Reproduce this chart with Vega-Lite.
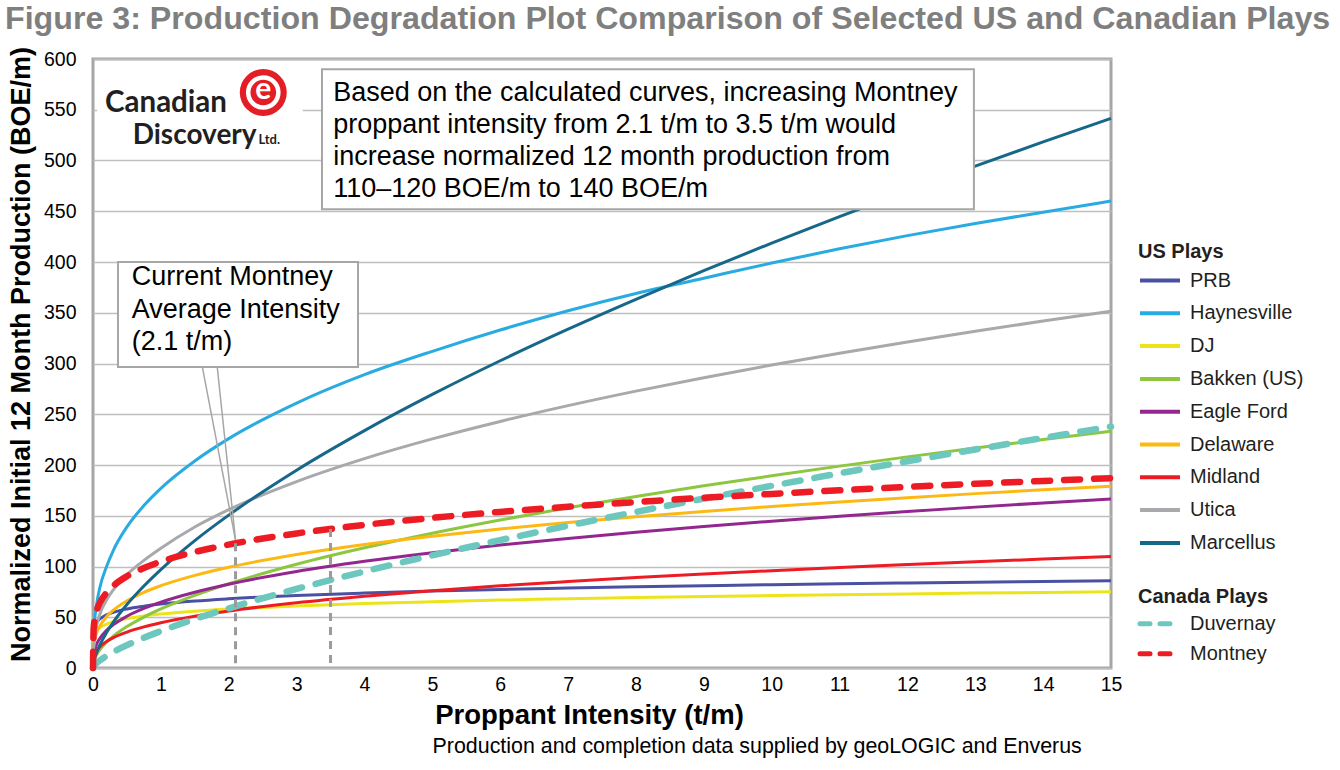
{
  "$schema": "https://vega.github.io/schema/vega-lite/v6.json",
  "width": 1018,
  "height": 609,
  "autosize": {"type": "none"},
  "padding": {"left": 93, "top": 59, "right": 229, "bottom": 102},
  "background": "white",
  "title": {
    "text": "Figure 3: Production Degradation Plot Comparison of Selected US and Canadian Plays",
    "anchor": "start",
    "frame": "group",
    "orient": "top",
    "dx": -88,
    "dy": 27,
    "offset": 12,
    "baseline": "alphabetic",
    "font": "Liberation Sans",
    "fontSize": 32.2,
    "fontWeight": "bold",
    "color": "#7F7F7F"
  },
  "config": {
    "font": "Liberation Sans",
    "view": {"stroke": "#A6A6A6", "strokeWidth": 3},
    "legend": {
      "labelFont": "Liberation Sans",
      "labelFontSize": 20,
      "labelColor": "#231F20",
      "titleFont": "Liberation Sans",
      "titleFontSize": 20,
      "titleFontWeight": "bold",
      "titleColor": "#231F20",
      "padding": 0,
      "symbolSize": 100,
      "symbolStrokeWidth": 4
    }
  },
  "datasets": {
    "curves": [
      {"play":"PRB","x":0,"y":0},{"play":"PRB","x":0.01,"y":37.1},{"play":"PRB","x":0.05,"y":44.6},{"play":"PRB","x":0.1,"y":48.3},{"play":"PRB","x":0.2,"y":52.4},{"play":"PRB","x":0.3,"y":54.9},{"play":"PRB","x":0.5,"y":58.2},{"play":"PRB","x":0.75,"y":60.9},{"play":"PRB","x":1,"y":63},{"play":"PRB","x":1.5,"y":66},{"play":"PRB","x":2,"y":68.2},{"play":"PRB","x":3,"y":71.5},{"play":"PRB","x":4,"y":73.9},{"play":"PRB","x":5,"y":75.8},{"play":"PRB","x":6,"y":77.4},{"play":"PRB","x":7,"y":78.8},{"play":"PRB","x":8,"y":80},{"play":"PRB","x":9,"y":81.1},{"play":"PRB","x":10,"y":82.1},{"play":"PRB","x":11,"y":83},{"play":"PRB","x":12,"y":83.8},{"play":"PRB","x":13,"y":84.6},{"play":"PRB","x":14,"y":85.3},{"play":"PRB","x":15,"y":86},
      {"play":"Haynesville","x":0,"y":0},{"play":"Haynesville","x":0.01,"y":35},{"play":"Haynesville","x":0.05,"y":61},{"play":"Haynesville","x":0.1,"y":79},{"play":"Haynesville","x":0.2,"y":100},{"play":"Haynesville","x":0.3,"y":116},{"play":"Haynesville","x":0.5,"y":139},{"play":"Haynesville","x":0.75,"y":160},{"play":"Haynesville","x":1,"y":177},{"play":"Haynesville","x":1.5,"y":204},{"play":"Haynesville","x":2,"y":226},{"play":"Haynesville","x":3,"y":261},{"play":"Haynesville","x":4,"y":289},{"play":"Haynesville","x":5,"y":312},{"play":"Haynesville","x":6,"y":333},{"play":"Haynesville","x":7,"y":352},{"play":"Haynesville","x":8,"y":369},{"play":"Haynesville","x":9,"y":384},{"play":"Haynesville","x":10,"y":399},{"play":"Haynesville","x":11,"y":413},{"play":"Haynesville","x":12,"y":426},{"play":"Haynesville","x":13,"y":438},{"play":"Haynesville","x":14,"y":449},{"play":"Haynesville","x":15,"y":460},
      {"play":"DJ","x":0,"y":0},{"play":"DJ","x":0.01,"y":29.6},{"play":"DJ","x":0.05,"y":36.3},{"play":"DJ","x":0.1,"y":39.7},{"play":"DJ","x":0.2,"y":43.3},{"play":"DJ","x":0.3,"y":45.6},{"play":"DJ","x":0.5,"y":48.7},{"play":"DJ","x":0.75,"y":51.3},{"play":"DJ","x":1,"y":53.2},{"play":"DJ","x":1.5,"y":56},{"play":"DJ","x":2,"y":58.1},{"play":"DJ","x":3,"y":61.2},{"play":"DJ","x":4,"y":63.5},{"play":"DJ","x":5,"y":65.3},{"play":"DJ","x":6,"y":66.9},{"play":"DJ","x":7,"y":68.2},{"play":"DJ","x":8,"y":69.4},{"play":"DJ","x":9,"y":70.4},{"play":"DJ","x":10,"y":71.4},{"play":"DJ","x":11,"y":72.2},{"play":"DJ","x":12,"y":73},{"play":"DJ","x":13,"y":73.8},{"play":"DJ","x":14,"y":74.5},{"play":"DJ","x":15,"y":75.2},
      {"play":"Bakken (US)","x":0,"y":0},{"play":"Bakken (US)","x":0.01,"y":5.5},{"play":"Bakken (US)","x":0.05,"y":12.5},{"play":"Bakken (US)","x":0.1,"y":17.9},{"play":"Bakken (US)","x":0.2,"y":25.5},{"play":"Bakken (US)","x":0.3,"y":31.4},{"play":"Bakken (US)","x":0.5,"y":40.8},{"play":"Bakken (US)","x":0.75,"y":50.2},{"play":"Bakken (US)","x":1,"y":58.2},{"play":"Bakken (US)","x":1.5,"y":71.6},{"play":"Bakken (US)","x":2,"y":83},{"play":"Bakken (US)","x":3,"y":102.2},{"play":"Bakken (US)","x":4,"y":118.4},{"play":"Bakken (US)","x":5,"y":132.8},{"play":"Bakken (US)","x":6,"y":145.8},{"play":"Bakken (US)","x":7,"y":157.8},{"play":"Bakken (US)","x":8,"y":169},{"play":"Bakken (US)","x":9,"y":179.5},{"play":"Bakken (US)","x":10,"y":189.4},{"play":"Bakken (US)","x":11,"y":198.9},{"play":"Bakken (US)","x":12,"y":208},{"play":"Bakken (US)","x":13,"y":216.7},{"play":"Bakken (US)","x":14,"y":225.1},{"play":"Bakken (US)","x":15,"y":233.2},
      {"play":"Eagle Ford","x":0,"y":0},{"play":"Eagle Ford","x":0.01,"y":13.1},{"play":"Eagle Ford","x":0.05,"y":22.9},{"play":"Eagle Ford","x":0.1,"y":29.1},{"play":"Eagle Ford","x":0.2,"y":37.1},{"play":"Eagle Ford","x":0.3,"y":42.7},{"play":"Eagle Ford","x":0.5,"y":51},{"play":"Eagle Ford","x":0.75,"y":58.7},{"play":"Eagle Ford","x":1,"y":64.9},{"play":"Eagle Ford","x":1.5,"y":74.7},{"play":"Eagle Ford","x":2,"y":82.6},{"play":"Eagle Ford","x":3,"y":95.1},{"play":"Eagle Ford","x":4,"y":105.1},{"play":"Eagle Ford","x":5,"y":113.6},{"play":"Eagle Ford","x":6,"y":121.1},{"play":"Eagle Ford","x":7,"y":127.7},{"play":"Eagle Ford","x":8,"y":133.8},{"play":"Eagle Ford","x":9,"y":139.4},{"play":"Eagle Ford","x":10,"y":144.6},{"play":"Eagle Ford","x":11,"y":149.5},{"play":"Eagle Ford","x":12,"y":154.1},{"play":"Eagle Ford","x":13,"y":158.5},{"play":"Eagle Ford","x":14,"y":162.6},{"play":"Eagle Ford","x":15,"y":166.5},
      {"play":"Delaware","x":0,"y":0},{"play":"Delaware","x":0.01,"y":21.1},{"play":"Delaware","x":0.05,"y":33.8},{"play":"Delaware","x":0.1,"y":41.3},{"play":"Delaware","x":0.2,"y":50.6},{"play":"Delaware","x":0.3,"y":57},{"play":"Delaware","x":0.5,"y":66.2},{"play":"Delaware","x":0.75,"y":74.6},{"play":"Delaware","x":1,"y":81.1},{"play":"Delaware","x":1.5,"y":91.3},{"play":"Delaware","x":2,"y":99.3},{"play":"Delaware","x":3,"y":111.8},{"play":"Delaware","x":4,"y":121.7},{"play":"Delaware","x":5,"y":129.9},{"play":"Delaware","x":6,"y":137},{"play":"Delaware","x":7,"y":143.3},{"play":"Delaware","x":8,"y":149},{"play":"Delaware","x":9,"y":154.3},{"play":"Delaware","x":10,"y":159.1},{"play":"Delaware","x":11,"y":163.6},{"play":"Delaware","x":12,"y":167.8},{"play":"Delaware","x":13,"y":171.8},{"play":"Delaware","x":14,"y":175.6},{"play":"Delaware","x":15,"y":179.1},
      {"play":"Midland","x":0,"y":0},{"play":"Midland","x":0.01,"y":9.6},{"play":"Midland","x":0.05,"y":16.5},{"play":"Midland","x":0.1,"y":20.7},{"play":"Midland","x":0.2,"y":26.1},{"play":"Midland","x":0.3,"y":29.9},{"play":"Midland","x":0.5,"y":35.4},{"play":"Midland","x":0.75,"y":40.5},{"play":"Midland","x":1,"y":44.6},{"play":"Midland","x":1.5,"y":51},{"play":"Midland","x":2,"y":56.2},{"play":"Midland","x":3,"y":64.3},{"play":"Midland","x":4,"y":70.7},{"play":"Midland","x":5,"y":76.2},{"play":"Midland","x":6,"y":81},{"play":"Midland","x":7,"y":85.2},{"play":"Midland","x":8,"y":89.1},{"play":"Midland","x":9,"y":92.6},{"play":"Midland","x":10,"y":95.9},{"play":"Midland","x":11,"y":99},{"play":"Midland","x":12,"y":101.9},{"play":"Midland","x":13,"y":104.7},{"play":"Midland","x":14,"y":107.3},{"play":"Midland","x":15,"y":109.8},
      {"play":"Utica","x":0,"y":0},{"play":"Utica","x":0.01,"y":22},{"play":"Utica","x":0.05,"y":41},{"play":"Utica","x":0.1,"y":53},{"play":"Utica","x":0.2,"y":67},{"play":"Utica","x":0.3,"y":77},{"play":"Utica","x":0.5,"y":92},{"play":"Utica","x":0.75,"y":106},{"play":"Utica","x":1,"y":118},{"play":"Utica","x":1.5,"y":138.9},{"play":"Utica","x":2,"y":156},{"play":"Utica","x":3,"y":183.7},{"play":"Utica","x":4,"y":206.3},{"play":"Utica","x":5,"y":225.7},{"play":"Utica","x":6,"y":242.9},{"play":"Utica","x":7,"y":258.5},{"play":"Utica","x":8,"y":272.8},{"play":"Utica","x":9,"y":286},{"play":"Utica","x":10,"y":298.5},{"play":"Utica","x":11,"y":310.1},{"play":"Utica","x":12,"y":321.2},{"play":"Utica","x":13,"y":331.8},{"play":"Utica","x":14,"y":341.8},{"play":"Utica","x":15,"y":351.4},
      {"play":"Marcellus","x":0,"y":0},{"play":"Marcellus","x":0.01,"y":5.2},{"play":"Marcellus","x":0.05,"y":14.5},{"play":"Marcellus","x":0.1,"y":22.5},{"play":"Marcellus","x":0.2,"y":34.9},{"play":"Marcellus","x":0.3,"y":45.2},{"play":"Marcellus","x":0.5,"y":62.5},{"play":"Marcellus","x":0.75,"y":80.8},{"play":"Marcellus","x":1,"y":97},{"play":"Marcellus","x":1.5,"y":125.5},{"play":"Marcellus","x":2,"y":150.6},{"play":"Marcellus","x":3,"y":194.9},{"play":"Marcellus","x":4,"y":233.9},{"play":"Marcellus","x":5,"y":269.5},{"play":"Marcellus","x":6,"y":302.7},{"play":"Marcellus","x":7,"y":333.8},{"play":"Marcellus","x":8,"y":363.2},{"play":"Marcellus","x":9,"y":391.5},{"play":"Marcellus","x":10,"y":418.6},{"play":"Marcellus","x":11,"y":444.7},{"play":"Marcellus","x":12,"y":470},{"play":"Marcellus","x":13,"y":494.5},{"play":"Marcellus","x":14,"y":518.3},{"play":"Marcellus","x":15,"y":541.5},
      {"play":"Duvernay","x":0,"y":0},{"play":"Duvernay","x":0.01,"y":1.5},{"play":"Duvernay","x":0.05,"y":4.6},{"play":"Duvernay","x":0.1,"y":7.4},{"play":"Duvernay","x":0.2,"y":11.9},{"play":"Duvernay","x":0.3,"y":15.8},{"play":"Duvernay","x":0.5,"y":22.5},{"play":"Duvernay","x":0.75,"y":29.8},{"play":"Duvernay","x":1,"y":36.4},{"play":"Duvernay","x":1.5,"y":48.2},{"play":"Duvernay","x":2,"y":58.8},{"play":"Duvernay","x":3,"y":77.9},{"play":"Duvernay","x":4,"y":95.1},{"play":"Duvernay","x":5,"y":111},{"play":"Duvernay","x":6,"y":126},{"play":"Duvernay","x":7,"y":140.2},{"play":"Duvernay","x":8,"y":153.8},{"play":"Duvernay","x":9,"y":166.9},{"play":"Duvernay","x":10,"y":179.5},{"play":"Duvernay","x":11,"y":191.8},{"play":"Duvernay","x":12,"y":203.7},{"play":"Duvernay","x":13,"y":215.3},{"play":"Duvernay","x":14,"y":226.7},{"play":"Duvernay","x":15,"y":237.8},
      {"play":"Montney","x":0,"y":0},{"play":"Montney","x":0.01,"y":39.1},{"play":"Montney","x":0.05,"y":55.2},{"play":"Montney","x":0.1,"y":64},{"play":"Montney","x":0.2,"y":74.3},{"play":"Montney","x":0.3,"y":81},{"play":"Montney","x":0.5,"y":90.4},{"play":"Montney","x":0.75,"y":98.5},{"play":"Montney","x":1,"y":104.8},{"play":"Montney","x":1.5,"y":114.3},{"play":"Montney","x":2,"y":121.6},{"play":"Montney","x":3,"y":132.6},{"play":"Montney","x":4,"y":141},{"play":"Montney","x":5,"y":147.9},{"play":"Montney","x":6,"y":153.8},{"play":"Montney","x":7,"y":158.9},{"play":"Montney","x":8,"y":163.5},{"play":"Montney","x":9,"y":167.7},{"play":"Montney","x":10,"y":171.5},{"play":"Montney","x":11,"y":175.1},{"play":"Montney","x":12,"y":178.4},{"play":"Montney","x":13,"y":181.5},{"play":"Montney","x":14,"y":184.3},{"play":"Montney","x":15,"y":187.1}
    ]
  },
  "data": {"name": "curves"},
  "layer": [
    {
      "data": {"values": [{}]},
      "mark": {"type": "rect", "fill": "white"},
      "encoding": {
        "x": {"datum": 0.06, "type": "quantitative", "scale": {"domain": [0, 15], "nice": false}},
        "x2": {"datum": 3.09},
        "y": {"datum": 505, "type": "quantitative", "scale": {"domain": [0, 600], "nice": false}},
        "y2": {"datum": 596}
      }
    },
    {
      "transform": [{"filter": {"field": "play", "oneOf": ["PRB", "Haynesville", "DJ", "Bakken (US)", "Eagle Ford", "Delaware", "Midland", "Utica", "Marcellus"]}}],
      "mark": {"type": "line", "strokeWidth": 3, "interpolate": "monotone"},
      "encoding": {
        "x": {
          "field": "x", "type": "quantitative",
          "scale": {"domain": [0, 15], "nice": false},
          "axis": {
            "title": "Proppant Intensity (t/m)",
            "values": [0, 1, 2, 3, 4, 5, 6, 7, 8, 9, 10, 11, 12, 13, 14, 15],
            "format": "d",
            "grid": false, "domain": false, "ticks": false, "tickSize": 0,
            "labelFlush": false,
            "labelFont": "Liberation Sans", "labelFontSize": 19.5, "labelColor": "#000000", "labelPadding": 7,
            "titleFont": "Liberation Sans", "titleFontSize": 27.5, "titleFontWeight": "bold", "titleColor": "#000000",
            "titleX": 496, "titleY": 55, "titleAlign": "center", "titleBaseline": "alphabetic"
          }
        },
        "y": {
          "field": "y", "type": "quantitative",
          "scale": {"domain": [0, 600], "nice": false},
          "axis": {
            "title": "Normalized Initial 12 Month Production (BOE/m)",
            "values": [0, 50, 100, 150, 200, 250, 300, 350, 400, 450, 500, 550, 600],
            "format": "d",
            "grid": true, "gridColor": "#BFBFBF", "gridWidth": 1.5,
            "domain": false, "ticks": false, "tickSize": 0,
            "labelFont": "Liberation Sans", "labelFontSize": 19.5, "labelColor": "#000000", "labelPadding": 17,
            "titleFont": "Liberation Sans", "titleFontSize": 27, "titleFontWeight": "bold", "titleColor": "#000000",
            "titleX": -64, "titleY": 295, "titleAngle": 270, "titleAlign": "center", "titleBaseline": "alphabetic"
          }
        },
        "color": {
          "field": "play", "type": "nominal",
          "scale": {
            "domain": ["PRB", "Haynesville", "DJ", "Bakken (US)", "Eagle Ford", "Delaware", "Midland", "Utica", "Marcellus"],
            "range": ["#4B51A2", "#29ABE2", "#ECE41A", "#8DC63F", "#93278F", "#FDB913", "#ED1C24", "#A7A9AC", "#17678A"]
          },
          "legend": {
            "title": "US Plays",
            "orient": "none", "legendX": 1045, "legendY": 183,
            "symbolType": "M-4,0H4", "symbolOffset": 12, "labelOffset": 20,
            "rowPadding": 12.8, "titlePadding": 8.5
          }
        }
      }
    },
    {
      "transform": [{"filter": {"field": "play", "oneOf": ["Duvernay", "Montney"]}}],
      "mark": {"type": "line", "strokeWidth": 6.5, "strokeDash": [16, 14], "strokeCap": "round", "interpolate": "monotone"},
      "encoding": {
        "x": {"field": "x", "type": "quantitative", "scale": {"domain": [0, 15], "nice": false}},
        "y": {"field": "y", "type": "quantitative", "scale": {"domain": [0, 600], "nice": false}},
        "color": {
          "field": "play", "type": "nominal",
          "scale": {"domain": ["Duvernay", "Montney"], "range": ["#6CC8BE", "#ED1C24"]},
          "legend": {
            "title": "Canada Plays",
            "orient": "none", "legendX": 1045, "legendY": 528,
            "symbolType": "M-3.4,0H3.4", "symbolOffset": 9, "symbolStrokeWidth": 5, "labelOffset": 23,
            "symbolDash": [10, 10],
            "rowPadding": 10, "titlePadding": 6.8,
            "encode": {"symbols": {"update": {"strokeCap": {"value": "round"}}}}
          }
        }
      }
    },
    {
      "data": {"values": [{"x": 2.1, "y": 123}, {"x": 3.5, "y": 137}]},
      "mark": {"type": "rule", "stroke": "#9B9B9B", "strokeWidth": 3, "strokeDash": [8, 6]},
      "encoding": {
        "x": {"field": "x", "type": "quantitative", "scale": {"domain": [0, 15], "nice": false}},
        "y": {"field": "y", "type": "quantitative", "scale": {"domain": [0, 600], "nice": false}},
        "y2": {"datum": 0}
      }
    },
    {
      "data": {"values": [{}]},
      "mark": {"type": "rule", "stroke": "#A6A6A6", "strokeWidth": 1.5},
      "encoding": {
        "x": {"datum": 1.61, "type": "quantitative", "scale": {"domain": [0, 15], "nice": false}},
        "x2": {"datum": 2.1},
        "y": {"datum": 297, "type": "quantitative", "scale": {"domain": [0, 600], "nice": false}},
        "y2": {"datum": 126}
      }
    },
    {
      "data": {"values": [{}]},
      "mark": {"type": "rule", "stroke": "#A6A6A6", "strokeWidth": 1.5},
      "encoding": {
        "x": {"datum": 1.83, "type": "quantitative", "scale": {"domain": [0, 15], "nice": false}},
        "x2": {"datum": 2.1},
        "y": {"datum": 297, "type": "quantitative", "scale": {"domain": [0, 600], "nice": false}},
        "y2": {"datum": 126}
      }
    },
    {
      "data": {"values": [{}]},
      "mark": {"type": "rect", "fill": "white", "stroke": "#A6A6A6", "strokeWidth": 2},
      "encoding": {
        "x": {"datum": 0.368, "type": "quantitative", "scale": {"domain": [0, 15], "nice": false}},
        "x2": {"datum": 3.905},
        "y": {"datum": 296.6, "type": "quantitative", "scale": {"domain": [0, 600], "nice": false}},
        "y2": {"datum": 400}
      }
    },
    {
      "data": {"values": [{}]},
      "mark": {"type": "rect", "fill": "white", "stroke": "#A6A6A6", "strokeWidth": 2},
      "encoding": {
        "x": {"datum": 3.374, "type": "quantitative", "scale": {"domain": [0, 15], "nice": false}},
        "x2": {"datum": 12.98},
        "y": {"datum": 452, "type": "quantitative", "scale": {"domain": [0, 600], "nice": false}},
        "y2": {"datum": 590}
      }
    },
    {
      "data": {"values": [{}]},
      "mark": {
        "type": "text", "align": "left", "baseline": "alphabetic",
        "font": "Liberation Sans", "fontSize": 27, "color": "#000000", "lineHeight": 32.5,
        "text": ["Current Montney", "Average Intensity", "(2.1 t/m)"]
      },
      "encoding": {
        "x": {"datum": 0.57, "type": "quantitative", "scale": {"domain": [0, 15], "nice": false}},
        "y": {"datum": 377.3, "type": "quantitative", "scale": {"domain": [0, 600], "nice": false}}
      }
    },
    {
      "data": {"values": [{}]},
      "mark": {
        "type": "text", "align": "left", "baseline": "alphabetic",
        "font": "Liberation Sans", "fontSize": 27, "color": "#000000", "lineHeight": 32,
        "text": [
          "Based on the calculated curves, increasing Montney",
          "proppant intensity from 2.1 t/m to 3.5 t/m would",
          "increase normalized 12 month production from",
          "110–120 BOE/m to 140 BOE/m"
        ]
      },
      "encoding": {
        "x": {"datum": 3.54, "type": "quantitative", "scale": {"domain": [0, 15], "nice": false}},
        "y": {"datum": 558.9, "type": "quantitative", "scale": {"domain": [0, 600], "nice": false}}
      }
    },
    {
      "data": {"values": [{}]},
      "mark": {"type": "point", "shape": "circle", "filled": true, "fill": "#E31E24", "stroke": null, "size": 2206, "opacity": 1},
      "encoding": {
        "x": {"datum": 2.509, "type": "quantitative", "scale": {"domain": [0, 15], "nice": false}},
        "y": {"datum": 567, "type": "quantitative", "scale": {"domain": [0, 600], "nice": false}}
      }
    },
    {
      "data": {"values": [{}]},
      "mark": {"type": "point", "shape": "circle", "filled": false, "stroke": "#FFFFFF", "strokeWidth": 4.5, "size": 908, "opacity": 1},
      "encoding": {
        "x": {"datum": 2.509, "type": "quantitative", "scale": {"domain": [0, 15], "nice": false}},
        "y": {"datum": 567, "type": "quantitative", "scale": {"domain": [0, 600], "nice": false}}
      }
    },
    {
      "data": {"values": [{}]},
      "mark": {"type": "text", "text": "e", "align": "center", "baseline": "middle", "font": "Lato", "fontWeight": "bold", "fontSize": 30, "color": "#FFFFFF", "dy": -2},
      "encoding": {
        "x": {"datum": 2.509, "type": "quantitative", "scale": {"domain": [0, 15], "nice": false}},
        "y": {"datum": 567, "type": "quantitative", "scale": {"domain": [0, 600], "nice": false}}
      }
    },
    {
      "data": {"values": [{}]},
      "mark": {"type": "text", "text": "Canadian", "align": "left", "baseline": "alphabetic", "font": "Lato", "fontWeight": "bold", "fontSize": 29.5, "color": "#231F20"},
      "encoding": {
        "x": {"datum": 0.177, "type": "quantitative", "scale": {"domain": [0, 15], "nice": false}},
        "y": {"datum": 547.5, "type": "quantitative", "scale": {"domain": [0, 600], "nice": false}}
      }
    },
    {
      "data": {"values": [{}]},
      "mark": {"type": "text", "text": "Discovery", "align": "left", "baseline": "alphabetic", "font": "Lato", "fontWeight": "bold", "fontSize": 28, "color": "#231F20"},
      "encoding": {
        "x": {"datum": 0.585, "type": "quantitative", "scale": {"domain": [0, 15], "nice": false}},
        "y": {"datum": 516, "type": "quantitative", "scale": {"domain": [0, 600], "nice": false}}
      }
    },
    {
      "data": {"values": [{}]},
      "mark": {"type": "text", "text": "Ltd.", "align": "left", "baseline": "alphabetic", "font": "Lato", "fontWeight": "bold", "fontSize": 13, "color": "#231F20"},
      "encoding": {
        "x": {"datum": 2.44, "type": "quantitative", "scale": {"domain": [0, 15], "nice": false}},
        "y": {"datum": 516, "type": "quantitative", "scale": {"domain": [0, 600], "nice": false}}
      }
    },
    {
      "data": {"values": [{}]},
      "mark": {"type": "text", "text": "Production and completion data supplied by geoLOGIC and Enverus", "align": "right", "baseline": "alphabetic", "font": "Liberation Sans", "fontSize": 21.4, "color": "#000000"},
      "encoding": {
        "x": {"datum": 14.57, "type": "quantitative", "scale": {"domain": [0, 15], "nice": false}},
        "y": {"datum": -83.7, "type": "quantitative", "scale": {"domain": [0, 600], "nice": false}}
      }
    }
  ],
  "resolve": {"scale": {"color": "independent"}, "legend": {"color": "independent"}}
}
